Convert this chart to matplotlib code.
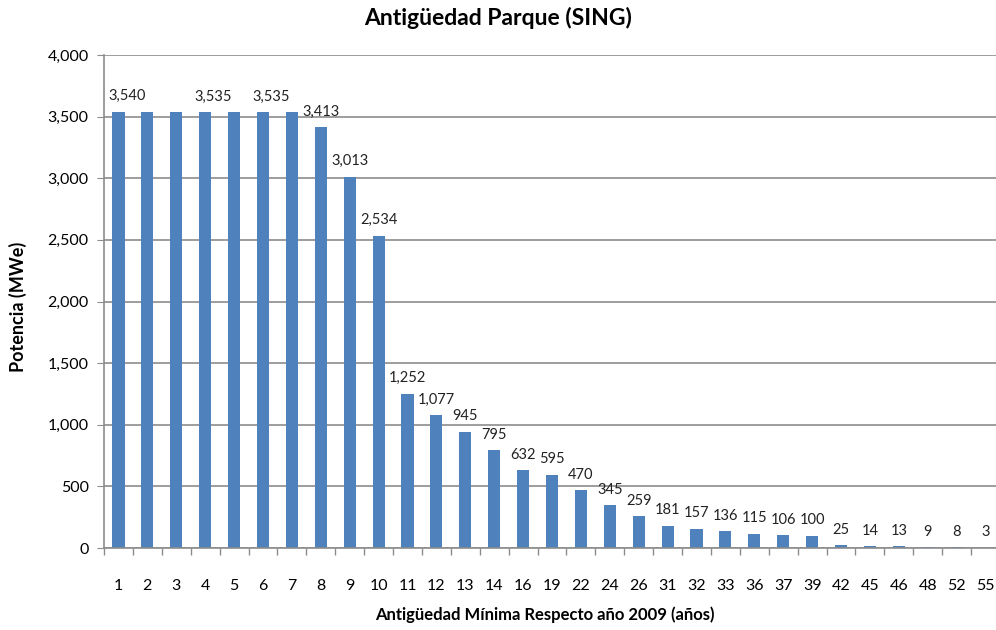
import matplotlib
matplotlib.use("Agg")
import matplotlib.pyplot as plt
from matplotlib.ticker import FuncFormatter, FixedLocator
import numpy as np

categories = ["1", "2", "3", "4", "5", "6", "7", "8", "9", "10", "11", "12", "13", "14", "16",
              "19", "22", "24", "26", "31", "32", "33", "36", "37", "39", "42", "45", "46",
              "48", "52", "55"]
values = [3540, 3540, 3535, 3535, 3535, 3535, 3535, 3413, 3013, 2534, 1252, 1077, 945, 795, 632,
          595, 470, 345, 259, 181, 157, 136, 115, 106, 100, 25, 14, 13, 9, 8, 3]
# labels hidden in the original (overlapping) for these categories
hidden_labels = ["2", "3", "5", "7"]
# labels nudged to the right in the original
shifted_labels = ["1", "4", "6"]

title = "Antigüedad Parque (SING)"
xlabel = "Antigüedad Mínima Respecto año 2009 (años)"
ylabel = "Potencia (MWe)"

plt.rcParams['font.family'] = ['Lato', 'DejaVu Sans']

fig = plt.figure(figsize=(9.96, 6.3), dpi=100)
ax = fig.add_axes([104/996, 1-548/630, (1000-104)/996, (548-55)/630])

x = np.arange(len(categories))
ax.bar(x, values, width=0.42, color="#4F81BD", zorder=3)

ax.set_xlim(-0.5, len(categories) - 0.5)
ax.set_ylim(0, 4000)
ax.set_yticks(np.arange(0, 4001, 500))
ax.yaxis.set_major_formatter(FuncFormatter(lambda v, p: f"{int(v):,}"))
ax.grid(axis='y', color="#8c8c8c", linewidth=1.2, zorder=0)

# x ticks: marks at category boundaries, labels at centers
ax.xaxis.set_major_locator(FixedLocator(x))
ax.set_xticklabels(categories)
ax.xaxis.set_minor_locator(FixedLocator(np.arange(-0.5, len(categories), 1.0)))
ax.tick_params(axis='x', which='major', length=0, pad=22, labelsize=11.5)
ax.tick_params(axis='x', which='minor', length=5, color="#8c8c8c", width=1)
ax.tick_params(axis='y', length=5, color="#8c8c8c", labelsize=11.5, pad=6)

for s in ['top', 'right']:
    ax.spines[s].set_visible(False)
for s in ['left', 'bottom']:
    ax.spines[s].set_color("#8c8c8c")
    ax.spines[s].set_linewidth(1.2)
ax.spines['bottom'].set_zorder(4)

for xi, cat, v in zip(x, categories, values):
    if cat in hidden_labels:
        continue
    dx = 6 if cat in shifted_labels else 0
    ax.annotate(f"{v:,}", (xi, v), xytext=(dx, 6), textcoords="offset points",
                ha='center', va='bottom', fontsize=10.5, color="#222222")

fig.text(498/996, 1-18/630, title, ha='center', va='center', fontsize=16.5, fontweight='bold')
fig.text(545/996, 1-615/630, xlabel, ha='center', va='center', fontsize=12, fontweight='bold')
fig.text(18/996, 1-307/630, ylabel, ha='center', va='center', rotation=90, fontsize=13,
         fontweight='bold')

fig.savefig("out.png", dpi=100)
